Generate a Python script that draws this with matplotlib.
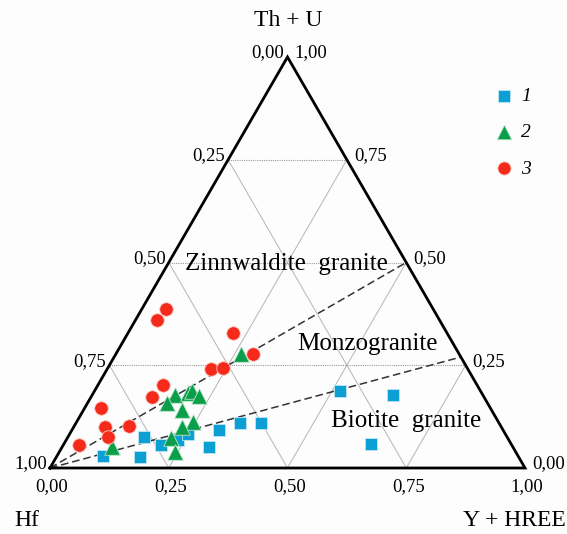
import numpy as np
import matplotlib
matplotlib.use("Agg")
import matplotlib.pyplot as plt

plt.rcParams['font.family'] = ['Liberation Serif', 'DejaVu Serif']

# compositions: (Y + HREE, Th + U), Hf = rest
yhree_1 = [0.097, 0.176, 0.160, 0.206, 0.235, 0.249, 0.309, 0.309, 0.345, 0.389, 0.517, 0.633, 0.647]
thu_1 = [0.029, 0.027, 0.076, 0.056, 0.068, 0.083, 0.051, 0.093, 0.110, 0.110, 0.188, 0.178, 0.059]

yhree_2 = [0.263, 0.174, 0.199, 0.205, 0.226, 0.167, 0.207, 0.245, 0.228, 0.218, 0.243, 0.105]
thu_2 = [0.278, 0.178, 0.183, 0.188, 0.176, 0.159, 0.141, 0.112, 0.100, 0.073, 0.039, 0.051]

yhree_3 = [0.050, 0.045, 0.221, 0.288, 0.218, 0.242, 0.137, 0.128, 0.034, 0.066, 0.084, 0.115, 0.033]
thu_3 = [0.388, 0.361, 0.329, 0.278, 0.241, 0.244, 0.202, 0.173, 0.146, 0.100, 0.076, 0.102, 0.056]

# boundary lines from the Hf apex to the right edge (Th + U value there)
boundary_thu = [0.50, 0.27]

ticks = [0.0, 0.25, 0.5, 0.75, 1.0]
tick_labels = ["0,00", "0,25", "0,50", "0,75", "1,00"]

fields = [("Zinnwaldite  granite", 0.25, 0.497),
          ("Monzogranite", 0.518, 0.302),
          ("Biotite  granite", 0.692, 0.115)]

H = np.sqrt(3) / 2


def cart(b, t):
    b = np.asarray(b, dtype=float)
    t = np.asarray(t, dtype=float)
    return b + t / 2, t * H


W, Hpx = 567, 534
fig = plt.figure(figsize=(W / 100, Hpx / 100), dpi=100)
fig.patch.set_facecolor("#fdfdfd")
ax = fig.add_axes([50 / W, 66 / Hpx, 475 / W, 411 / Hpx])
ax.set_xlim(0, 1)
ax.set_ylim(0, H)
ax.axis("off")

# grid
for g in [0.25, 0.5, 0.75]:
    # constant Th+U (horizontal)
    x, y = cart([0, 1 - g], [g, g])
    ax.plot(x, y, color="#9a9a9a", lw=0.8, ls=(0, (1, 1)), zorder=1)
    # constant Y+HREE
    x, y = cart([g, g], [0, 1 - g])
    ax.plot(x, y, color="#b5b5b5", lw=0.7, zorder=1)
    # constant Hf
    x, y = cart([1 - g, 0], [0, 1 - g])
    ax.plot(x, y, color="#b5b5b5", lw=0.7, zorder=1)

# outline
x, y = cart([0, 1, 0, 0], [0, 0, 1, 0])
ax.plot(x, y, color="black", lw=2.0, solid_joinstyle="miter", zorder=5, clip_on=False)

# field boundaries
for t in boundary_thu:
    x, y = cart([0, 1 - t], [0, t])
    ax.plot(x, y, color="#333333", lw=1.1, ls=(0, (5, 2.5)), zorder=2)

for text, b, t in fields:
    x, y = cart(b, t)
    ax.text(x, y, text, fontsize=18, ha="center", va="center", zorder=3)

x, y = cart(yhree_1, thu_1)
ax.scatter(x, y, marker="s", s=85, color="#0c9fd3", edgecolors="#bfe6f3", linewidths=0.6,
           zorder=6, label="1", clip_on=False)
x, y = cart(yhree_2, thu_2)
ax.scatter(x, y, marker="^", s=125, color="#0a9d4a", edgecolors="#b8e6c9", linewidths=0.6,
           zorder=6, label="2", clip_on=False)
x, y = cart(yhree_3, thu_3)
ax.scatter(x, y, marker="o", s=95, color="#f42a1b", edgecolors="#ffc9c2", linewidths=0.6,
           zorder=7, label="3", clip_on=False)

# tick labels
for v, lab in zip(ticks, tick_labels):
    # left edge: Hf
    x, y = cart(0, 1 - v)
    ax.annotate(lab, (x, y), xytext=(-3, 4), textcoords="offset pixels",
                ha="right", va="center", fontsize=13.5, annotation_clip=False)
    # right edge: Th + U
    x, y = cart(1 - v, v)
    ax.annotate(lab, (x, y), xytext=(7, 4), textcoords="offset pixels",
                ha="left", va="center", fontsize=13.5, annotation_clip=False)
    # bottom edge: Y + HREE
    x, y = cart(v, 0)
    ax.annotate(lab, (x, y), xytext=(2, -19), textcoords="offset pixels",
                ha="center", va="center", fontsize=13.5, annotation_clip=False)

fig.text(288 / W, 1 - 20 / Hpx, "Th + U", fontsize=17, ha="center", va="center")
fig.text(14 / W, 1 - 521 / Hpx, "Hf", fontsize=17, ha="left", va="center")
fig.text(463 / W, 1 - 521 / Hpx, "Y + HREE", fontsize=17, ha="left", va="center")

leg = ax.legend(loc="upper left", bbox_to_anchor=(486 / W, 1 - 80 / Hpx),
                bbox_transform=fig.transFigure, frameon=False, handletextpad=0.4,
                labelspacing=0.95, borderaxespad=0, handlelength=1.0,
                prop={"size": 14, "style": "italic"})
for h, s in zip(leg.legend_handles, [75, 110, 90]):
    h.set_sizes([s])

fig.savefig("out.png", dpi=100, facecolor=fig.get_facecolor())
